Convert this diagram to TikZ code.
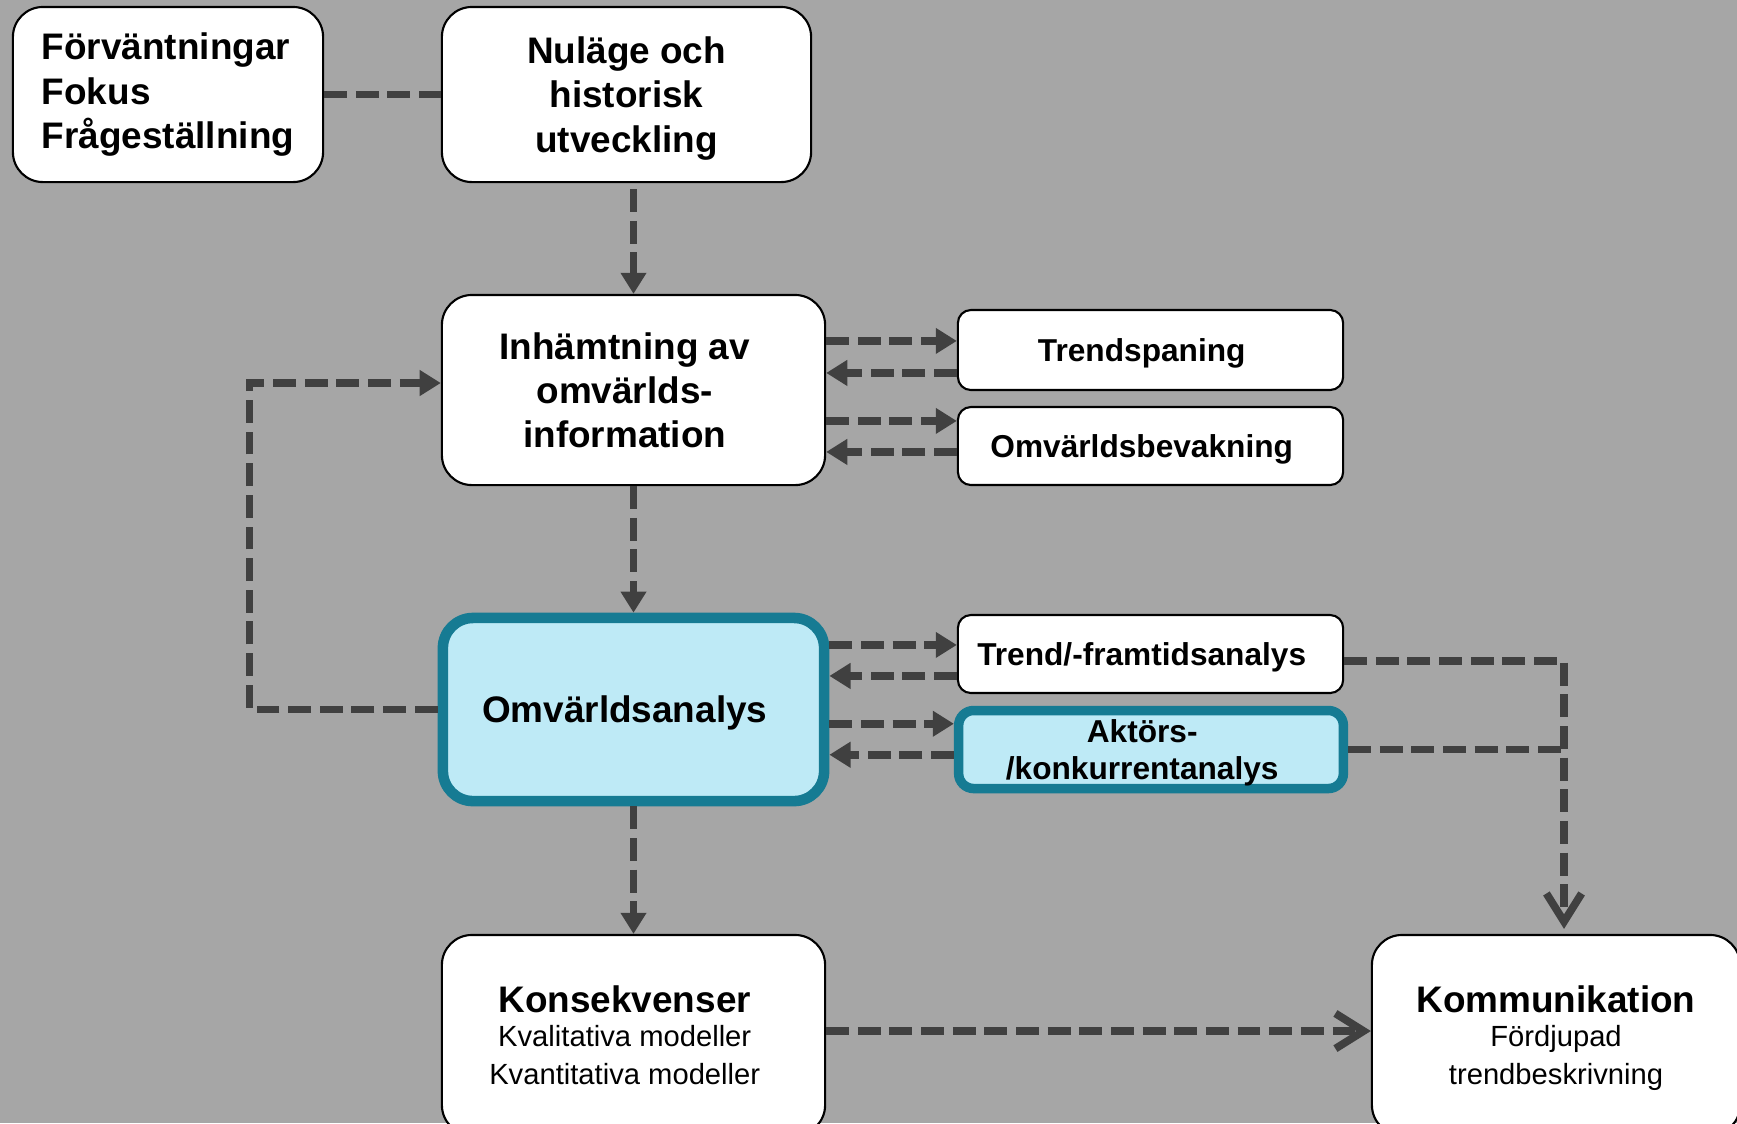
\documentclass[tikz,border=0pt]{standalone}
\usepackage{fontspec}
\setmainfont{Liberation Sans}
\usepackage{xcolor}
\usetikzlibrary{arrows.meta, calc, positioning}

\definecolor{bggray}{HTML}{A6A6A6}
\definecolor{arrowgray}{HTML}{404040}
\definecolor{tealedge}{HTML}{167B93}
\definecolor{paleblue}{HTML}{BEEAF6}

\newcommand{\mainlabelfont}{\fontsize{10.5}{12.6}\selectfont\bfseries}
\newcommand{\sidelabelfont}{\fontsize{9}{10.8}\selectfont\bfseries}
\newcommand{\notelabelfont}{\fontsize{8.3}{10.8}\selectfont}
\newcommand{\padr}{\kern5pt}

\tikzset{
    box/.style={draw=black, line width=0.6pt, fill=white, rounded corners=0.3cm,
        align=center, inner sep=0pt, text depth=0pt, font=\mainlabelfont},
    sidebox/.style={box, rounded corners=0.13cm, font=\sidelabelfont},
    keybox/.style={draw=tealedge, fill=paleblue},
    link/.style={draw=arrowgray, line width=2.2pt, dash pattern=on 6.5pt off 2.5pt},
    flow/.style={link, -{Triangle[length=6pt, width=7pt]}},
    flowopen/.style={link, -{Straight Barb[length=8pt, width=10pt]}}
}

\begin{document}
\begin{tikzpicture}[x=0.01cm, y=-0.01cm]
                                \useasboundingbox (0, 0) rectangle (1737, 1123);
                                \begin{scope}
                                \clip (0, 0) rectangle (1737, 1123);
                                \fill[bggray] (0, 0) rectangle (1737, 1123);

                                \node[box, align=left, text depth=2.2pt, minimum width=3.10cm, minimum height=1.75cm] (forv) at (168, 94.5) {Förväntningar\\Fokus\\Frågeställning};
                                \node[box, minimum width=3.69cm, minimum height=1.75cm] (nul) at (626.5, 94.5) {Nuläge och\\historisk\\utveckling};
                                \node[box, minimum width=3.83cm, minimum height=1.90cm] (inh) at (633.5, 390) {Inhämtning av\padr\\omvärlds-\padr\\information\padr};
                                \node[sidebox, minimum width=3.85cm, minimum height=0.80cm] (trend) at (1150.5, 350) {Trendspaning\padr};
                                \node[sidebox, minimum width=3.85cm, minimum height=0.78cm] (bev) at (1150.5, 446) {Omvärldsbevakning\padr};
                                \node[box, keybox, line width=3pt, minimum width=3.81cm, minimum height=1.83cm] (oma) at (633.5, 709.5) {Omvärldsanalys\padr};
                                \node[sidebox, minimum width=3.85cm, minimum height=0.78cm] (fram) at (1150.5, 654) {Trend/-framtidsanalys\padr};
                                \node[sidebox, keybox, line width=2.7pt, rounded corners=0.15cm, minimum width=3.845cm, minimum height=0.78cm] (akt) at (1151, 749.5) {Aktörs-\padr\\/konkurrentanalys\padr};
                                \node[box, font=\notelabelfont, minimum width=3.83cm, minimum height=2.00cm] (kons) at (633.5, 1035) {{\mainlabelfont Konsekvenser}\padr\\[-1.2pt]Kvalitativa modeller\padr\\Kvantitativa modeller\padr};
                                \node[box, font=\notelabelfont, minimum width=3.68cm, minimum height=2.00cm] (komm) at (1556, 1035) {{\mainlabelfont Kommunikation}\\[-1.2pt]Fördjupad\\trendbeskrivning};

                                \draw[link] (forv.east) -- (nul.west);
                                \draw[flow] ($(inh.north |- nul.south)+(0, 6)$) -- (inh.north);
                                \draw[flow] (inh.south) -- (oma.north);
                                \draw[flow] (oma.south) -- (kons.north);
                                \draw[flow] (oma.west) -- ++(-188, 0) |- ($(inh.west)+(0, -7)$);

                                \foreach \n/\m/\a/\b in {trend/inh/32/64, bev/inh/15/46, fram/oma/31/62, akt/oma/18/49} {
                                    \coordinate (r) at ($(\n.north west)+(0, \a)$);
                                    \coordinate (l) at ($(\n.north west)+(0, \b)$);
                                    \draw[flow] (\m.east |- r) -- (r);
                                    \draw[flow] (l) -- (\m.east |- l);
                                }

                                \coordinate (kin) at ($(komm.north)+(8, -5)$);
                                \draw[flowopen] ($(fram.east)+(0, 7)$) -| (kin);
                                \draw[link] (akt.east) -- (akt.east -| kin);
                                \draw[flowopen] ($(kons.east)+(0, -4)$) -- ($(komm.west)+(0, -4)$);
                                \end{scope}
                            \end{tikzpicture}
\end{document}
